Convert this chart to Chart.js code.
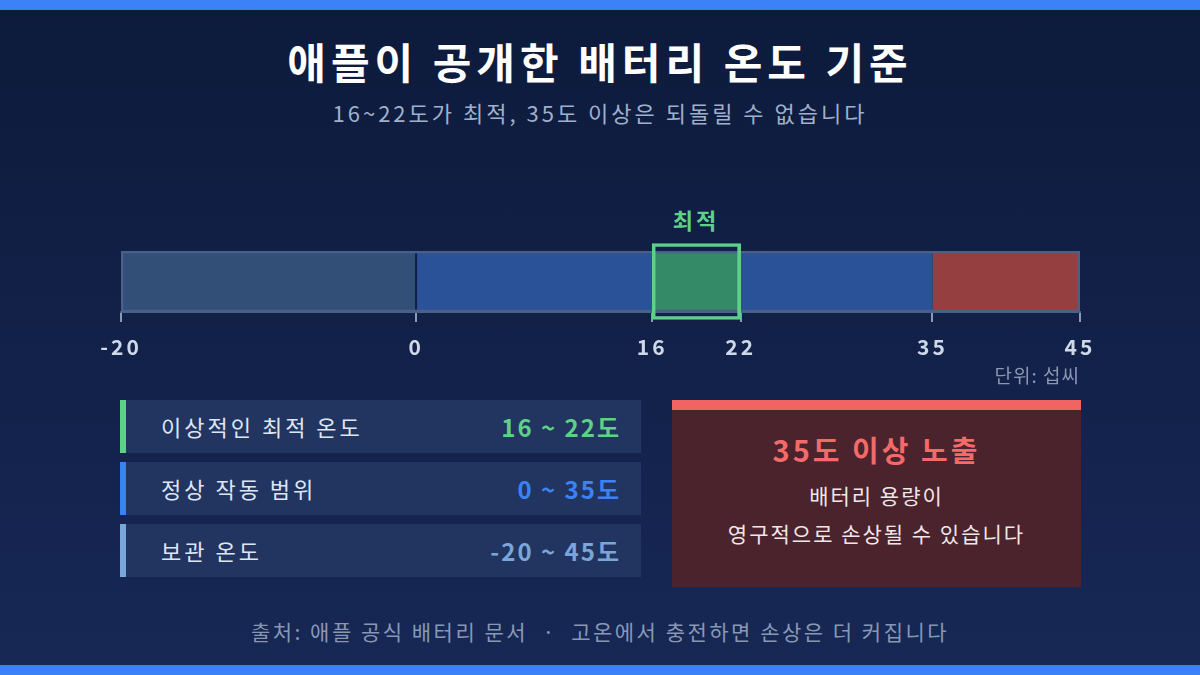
<!DOCTYPE html>
<html><head><meta charset="utf-8">
<script src="https://cdn.jsdelivr.net/npm/chart.js@4"></script>
<style>
body{margin:0;width:1200px;height:675px;overflow:hidden;font-family:"Noto Sans CJK KR","Noto Sans",sans-serif;}
#wrap{position:relative;width:1200px;height:675px;background:linear-gradient(180deg,#0d1a3b 0%,#172856 100%);color:#fff;letter-spacing:3px;}
.bar{position:absolute;left:0;width:1200px;height:10px;background:#3b82f6;}
.t{position:absolute;left:0;width:1200px;text-align:center;}
.row{position:absolute;left:120px;width:521px;height:53px;background:#223561;}
.row .ac{position:absolute;left:0;top:0;width:6px;height:53px;}
.row .l{position:absolute;left:41px;top:10px;font-size:22px;color:#dfe6f3;}
.row .v{position:absolute;right:20px;top:9px;font-size:24px;font-weight:bold;letter-spacing:2px;}
</style></head><body>
<div id="wrap">
<div class="bar" style="top:0"></div><div class="bar" style="top:665px"></div>
<div class="t" style="top:30px;font-size:42px;font-weight:bold;letter-spacing:5px;">애플이 공개한 배터리 온도 기준</div>
<div class="t" style="top:96px;font-size:22px;color:#9fb0cc;">16~22도가 최적, 35도 이상은 되돌릴 수 없습니다</div>
<div style="position:absolute;left:652px;width:88px;top:203px;text-align:center;font-size:22px;font-weight:bold;color:#5fd08a;">최적</div>
<div style="position:absolute;top:150px;left:0;width:1200px;height:250px;"><canvas id="c"></canvas></div>
<div style="position:absolute;right:120px;top:361px;font-size:19px;color:#8898b4;letter-spacing:1px;">단위: 섭씨</div>
<div class="row" style="top:400px"><div class="ac" style="background:#5fd08a"></div><div class="l">이상적인 최적 온도</div><div class="v" style="color:#5fd08a">16 ~ 22도</div></div>
<div class="row" style="top:462px"><div class="ac" style="background:#3b82f6"></div><div class="l">정상 작동 범위</div><div class="v" style="color:#3b82f6">0 ~ 35도</div></div>
<div class="row" style="top:524px"><div class="ac" style="background:#7aa6d8"></div><div class="l">보관 온도</div><div class="v" style="color:#7aa6d8">-20 ~ 45도</div></div>
<div style="position:absolute;left:672px;top:400px;width:409px;height:187px;background:#4a232d;">
<div style="height:10px;background:#f06464;"></div>
<div style="text-align:center;margin-top:18px;font-size:29px;font-weight:bold;color:#f26a6a;">35도 이상 노출</div>
<div style="text-align:center;margin-top:6px;font-size:21px;line-height:38px;color:#f1e6e8;letter-spacing:2px;">배터리 용량이<br>영구적으로 손상될 수 있습니다</div>
</div>
<div class="t" style="top:616px;font-size:21px;color:#8898b4;letter-spacing:2.5px;">출처: 애플 공식 배터리 문서 &nbsp;·&nbsp; 고온에서 충전하면 손상은 더 커집니다</div>
</div>
<script>
const categories=["온도"];
const zoneRanges=[[-20,0],[0,16],[16,22],[22,35],[35,45]];
const zoneColors=["#324f78","#2a5298","#348a66","#2a5298","#963f40"];
const optimalRange=[16,22];
const fullRange=[-20,45];
const tickValues=[-20,0,16,22,35,45];
const ds=zoneRanges.map((r,i)=>({data:[r],backgroundColor:zoneColors[i],borderColor:zoneColors[i],borderWidth:1,barThickness:61,grouped:false,order:3}));
ds.push({data:[fullRange],backgroundColor:"rgba(0,0,0,0)",borderColor:"#4a6088",borderWidth:2,borderSkipped:false,barThickness:61,grouped:false,order:2});
ds.push({data:[optimalRange],backgroundColor:"rgba(0,0,0,0)",borderColor:"#5fd08a",borderWidth:3,borderSkipped:false,barThickness:76,grouped:false,order:1,clip:false});
new Chart(document.getElementById('c'),{type:'bar',data:{labels:categories,datasets:ds},
options:{indexAxis:'y',responsive:true,maintainAspectRatio:false,animation:false,
layout:{padding:{left:121,right:120,top:101,bottom:0}},
plugins:{legend:{display:false},tooltip:{enabled:false}},
scales:{y:{display:false},
x:{min:-20,max:45,afterBuildTicks:s=>{s.ticks=tickValues.map(v=>({value:v}));},
afterFit:s=>{s.height=88;},
border:{color:"#4a6088",width:2},
grid:{drawOnChartArea:false,color:"#8a9ab8",tickLength:10,lineWidth:2},
ticks:{color:"#cfd8e8",padding:12,font:{size:21,weight:'bold',family:"'Noto Sans CJK KR','Noto Sans',sans-serif"},autoSkip:false,maxRotation:0}}}}});
</script>
</body></html>
